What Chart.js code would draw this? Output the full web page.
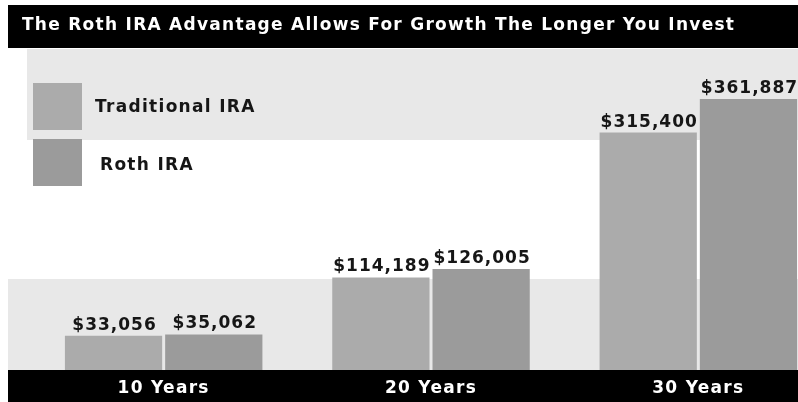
<!DOCTYPE html>
<html>
<head>
<meta charset="utf-8">
<script src="https://cdn.jsdelivr.net/npm/chart.js@4.4.1/dist/chart.umd.min.js"></script>
<style>
  html, body { margin: 0; padding: 0; background: #fff; overflow: hidden; }
  #wrap { width: 798px; height: 402px; overflow: hidden; }
</style>
</head>
<body>
<div id="wrap"><canvas id="c" width="832" height="402"></canvas></div>
<script>
const titleText = 'The Roth IRA Advantage Allows For Growth The Longer You Invest';
const categories = ['10 Years', '20 Years', '30 Years'];
const seriesNames = ['Traditional IRA', 'Roth IRA'];
const traditionalValues = [33056, 114189, 315400];
const rothValues = [35062, 126005, 361887];
const seriesColors = ['#ababab', '#9b9b9b'];

const FONT = '"DejaVu Sans", Verdana, sans-serif';
const AXIS_BASE = -14400;

function fitSpacing(ctx, text, target) {
  ctx.letterSpacing = '0px';
  const w = ctx.measureText(text).width;
  return Math.max(0, (target - w) / Math.max(1, text.length - 1));
}

const decor = {
  id: 'decor',
  beforeDraw(chart) {
    const ctx = chart.ctx;
    ctx.save();
    ctx.fillStyle = '#ffffff';
    ctx.fillRect(0, 0, 832, 402);
    ctx.fillStyle = '#000000';
    ctx.fillRect(8, 5, 824, 43);
    ctx.fillStyle = '#e8e8e8';
    ctx.fillRect(27, 49, 805, 91);
    ctx.fillRect(8, 279, 824, 91);
    ctx.fillStyle = '#000000';
    ctx.fillRect(8, 370, 824, 32);
    // title
    ctx.font = 'bold 17px ' + FONT;
    const ls = fitSpacing(ctx, titleText, 712);
    ctx.letterSpacing = ls + 'px';
    ctx.fillStyle = '#ffffff';
    ctx.textBaseline = 'middle';
    ctx.textAlign = 'left';
    ctx.fillText(titleText, 22, 26);
    ctx.restore();
    ctx.letterSpacing = '1.3px';
  },
  beforeDatasetsDraw(chart) {
    chart.ctx.letterSpacing = '0px';
  },
  afterDatasetsDraw(chart) {
    const ctx = chart.ctx;
    ctx.save();
    ctx.font = 'bold 17px ' + FONT;
    ctx.letterSpacing = '1px';
    ctx.fillStyle = '#161616';
    ctx.textAlign = 'center';
    ctx.textBaseline = 'alphabetic';
    chart.data.datasets.forEach((ds, di) => {
      const meta = chart.getDatasetMeta(di);
      meta.data.forEach((bar, i) => {
        const txt = '$' + ds.data[i].toLocaleString('en-US');
        ctx.fillText(txt, bar.x + 1, bar.y - 6);
      });
    });
    // legend
    const boxes = [{x: 33, y: 83, tx: 95, ty: 108}, {x: 33, y: 139, tx: 100, ty: 166}];
    chart.data.datasets.forEach((ds, di) => {
      const b = boxes[di];
      ctx.fillStyle = ds.backgroundColor;
      ctx.fillRect(b.x, b.y, 49, 47);
      ctx.fillStyle = '#161616';
      ctx.textAlign = 'left';
      ctx.textBaseline = 'middle';
      ctx.font = 'bold 17px ' + FONT;
      ctx.letterSpacing = '1.3px';
      ctx.fillText(ds.label, b.tx, b.ty);
    });
    ctx.restore();
  }
};

new Chart(document.getElementById('c'), {
  type: 'bar',
  data: {
    labels: categories,
    datasets: [
      { label: seriesNames[0], data: traditionalValues, backgroundColor: seriesColors[0], base: AXIS_BASE },
      { label: seriesNames[1], data: rothValues, backgroundColor: seriesColors[1], base: AXIS_BASE }
    ]
  },
  options: {
    responsive: false,
    animation: false,
    events: [],
    categoryPercentage: 0.75,
    barPercentage: 0.97,
    layout: { padding: { left: 30, right: 0, top: 48, bottom: 0 } },
    plugins: { legend: { display: false }, tooltip: { enabled: false }, title: { display: false } },
    scales: {
      x: {
        grid: { display: false, drawTicks: false },
        border: { display: false },
        ticks: { color: '#ffffff', font: { family: FONT, size: 17, weight: 'bold' }, padding: 8 },
        afterFit(axis) { axis.height = 32; }
      },
      y: {
        display: false,
        min: AXIS_BASE,
        max: 432800
      }
    }
  },
  plugins: [decor]
});
</script>
</body>
</html>
